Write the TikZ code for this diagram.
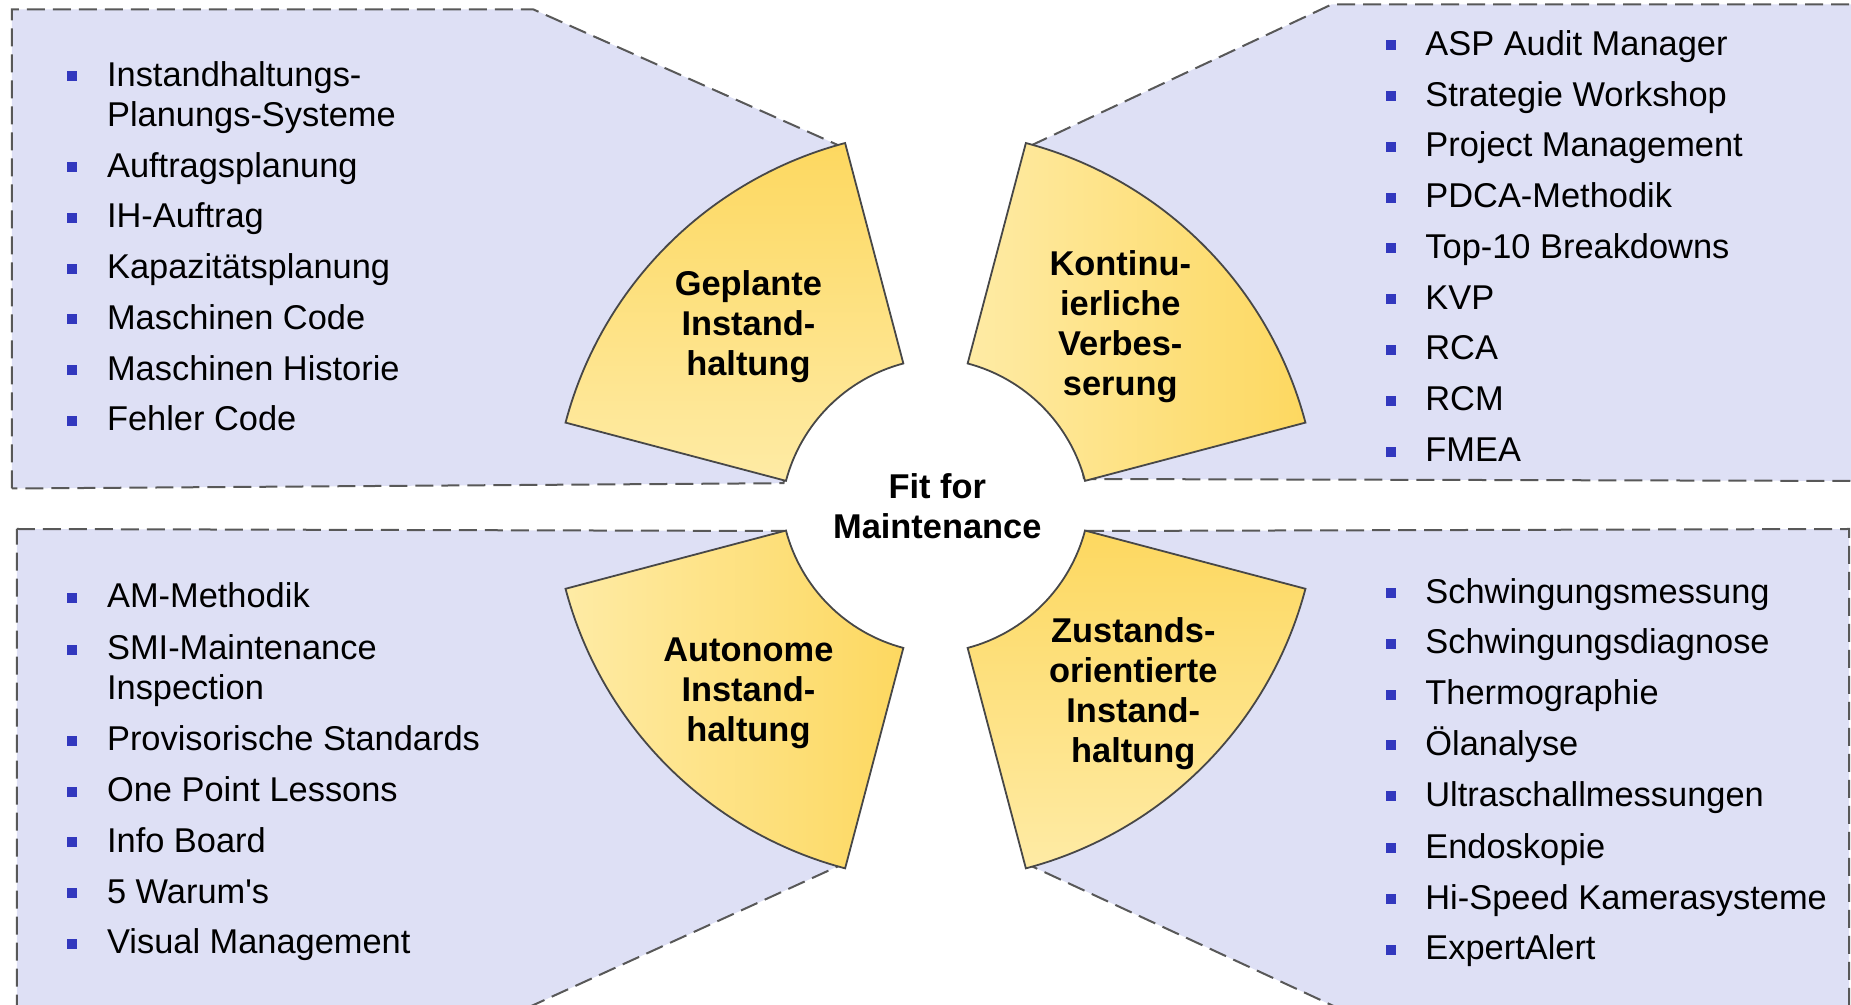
\documentclass[tikz,border=0pt]{standalone}
\usepackage{fontspec}
\setmainfont{Liberation Sans}
\usepackage{tikz}

\definecolor{panelblue}{RGB}{222,224,245}
\definecolor{dashgray}{RGB}{88,88,88}
\definecolor{bulletblue}{RGB}{50,56,190}
\definecolor{sunlight}{RGB}{254,235,165}
\definecolor{sundark}{RGB}{253,216,96}

\begin{document}
\begin{tikzpicture}[x=0.5pt,y=0.5pt,
		panel/.style={fill=panelblue,draw=dashgray,line width=1pt,dash pattern=on 9pt off 4pt},
		sectorpath/.style={draw=black!72,line width=0.9pt},
		listitem/.style={anchor=base west,inner sep=0pt,font=\fontsize{17.2}{20}\selectfont},
		sectortext/.style={align=center,font=\bfseries\fontsize{17.2}{20}\selectfont}]
	\useasboundingbox (-935.5,-499.3) rectangle (915.5,505.7);
	\clip (-935.5,-499.3) rectangle (915.5,505.7);
	\draw[panel] (-923.5,17.2) -- (-923.5,496.2) -- (-402,496.2) -- (-95.5,359.7) -- (-152,22.5) -- cycle;
	\draw[panel] (148.5,26.7) -- (94.5,359.7) -- (396,501.2) -- (940,501.2) -- (940,24.7) -- cycle;
	\draw[panel] (-918.5,-23.3) -- (-152.5,-25.3) -- (-95.5,-359.7) -- (-447.4,-520) -- (-918.5,-520) -- cycle;
	\draw[panel] (150.5,-25.3) -- (913.5,-23.3) -- (913.5,-520) -- (440.6,-520) -- (94.5,-359.7) -- cycle;
	\draw[sectorpath,shift={(10,-17.3)},top color=sundark,bottom color=sunlight] (104.8:393) arc[start angle=104.8,end angle=165.2,radius=393] -- (165.2:165) arc[start angle=165.2,end angle=104.8,radius=165] -- cycle;
	\draw[sectorpath,shift={(-10,-17.3)},left color=sunlight,right color=sundark] (75.2:393) arc[start angle=75.2,end angle=14.8,radius=393] -- (14.8:165) arc[start angle=14.8,end angle=75.2,radius=165] -- cycle;
	\draw[sectorpath,shift={(10,17.3)},left color=sunlight,right color=sundark] (194.8:165) arc[start angle=194.8,end angle=255.2,radius=165] -- (255.2:393) arc[start angle=255.2,end angle=194.8,radius=393] -- cycle;
	\draw[sectorpath,shift={(-10,17.3)},top color=sundark,bottom color=sunlight] (284.8:393) arc[start angle=284.8,end angle=345.2,radius=393] -- (345.2:165) arc[start angle=345.2,end angle=284.8,radius=165] -- cycle;
	\node[sectortext] (geplante) at (-187.1,179.5) {Geplante\\Instand-\\haltung};
	\node[sectortext] (kontinu) at (184.8,179.5) {Kontinu-\\ierliche\\Verbes-\\serung};
	\node[sectortext] (autonome) at (-187.1,-187.7) {Autonome\\Instand-\\haltung};
	\node[sectortext] (zustand) at (197.8,-187.6) {Zustands-\\orientierte\\Instand-\\haltung};
	\node[sectortext] (fit) at (1.8,-0.4) {Fit for\\Maintenance};
	\foreach \y/\txt/\bul [count=\i] in {419.5/Instandhaltungs-/1,379.4/Planungs-Systeme/0,328.6/Auftragsplanung/1,277.9/IH-Auftrag/1,227.1/Kapazitätsplanung/1,176.3/Maschinen Code/1,125.6/Maschinen Historie/1,74.8/Fehler Code/1}{
		\node[listitem] (plan\i) at (-828.8,\y) {\txt};
		\ifnum\bul=1 \fill[bulletblue] (-868,\y+5) rectangle +(10,10); \fi
	}
	\foreach \y/\txt [count=\i] in {450.2/ASP Audit Manager,399.4/Strategie Workshop,348.7/Project Management,297.9/PDCA-Methodik,247.2/Top-10 Breakdowns,196.4/KVP,145.7/RCA,94.9/RCM,44.1/FMEA}{
		\node[listitem] (kvp\i) at (489.5,\y) {\txt};
		\fill[bulletblue] (450.5,\y+5) rectangle +(10,10);
	}
	\foreach \y/\txt/\bul [count=\i] in {-102.3/AM-Methodik/1,-154.2/SMI-Maintenance/1,-194.3/Inspection/0,-245.1/Provisorische Standards/1,-295.9/One Point Lessons/1,-346.6/Info Board/1,-397.4/{5 Warum\textquotesingle s}/1,-448.2/Visual Management/1}{
		\node[listitem] (am\i) at (-828.8,\y) {\txt};
		\ifnum\bul=1 \fill[bulletblue] (-868,\y+5) rectangle +(10,10); \fi
	}
	\foreach \y/\txt [count=\i] in {-97.6/Schwingungsmessung,-148.3/Schwingungsdiagnose,-199.1/Thermographie,-249.8/Ölanalyse,-300.6/Ultraschallmessungen,-352.5/Endoskopie,-403.3/Hi-Speed Kamerasysteme,-454.1/ExpertAlert}{
		\node[listitem] (cbm\i) at (489.5,\y) {\txt};
		\fill[bulletblue] (450.5,\y+5) rectangle +(10,10);
	}
\end{tikzpicture}
\end{document}
